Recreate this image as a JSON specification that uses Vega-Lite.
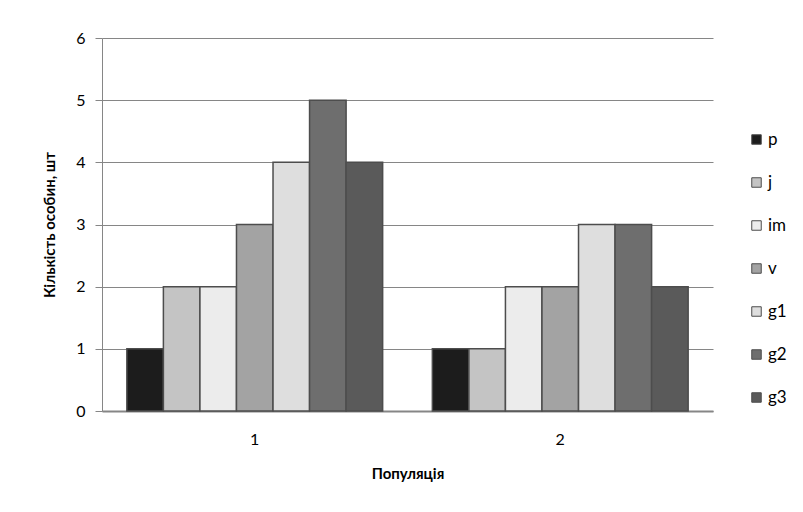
{
  "$schema": "https://vega.github.io/schema/vega-lite/v6.json",
  "description": "Кількість особин за віковими станами у двох популяціях",
  "autosize": {"type": "none"},
  "width": 611,
  "height": 373,
  "padding": {"left": 102, "top": 38, "right": 90, "bottom": 101},
  "background": "white",
  "data": {
    "values": [
      {"pop": "1", "stage": "p", "count": 1},
      {"pop": "1", "stage": "j", "count": 2},
      {"pop": "1", "stage": "im", "count": 2},
      {"pop": "1", "stage": "v", "count": 3},
      {"pop": "1", "stage": "g1", "count": 4},
      {"pop": "1", "stage": "g2", "count": 5},
      {"pop": "1", "stage": "g3", "count": 4},
      {"pop": "2", "stage": "p", "count": 1},
      {"pop": "2", "stage": "j", "count": 1},
      {"pop": "2", "stage": "im", "count": 2},
      {"pop": "2", "stage": "v", "count": 2},
      {"pop": "2", "stage": "g1", "count": 3},
      {"pop": "2", "stage": "g2", "count": 3},
      {"pop": "2", "stage": "g3", "count": 2}
    ]
  },
  "mark": {"type": "bar", "stroke": "#4d4d4d", "strokeWidth": 1.5},
  "encoding": {
    "x": {
      "field": "pop",
      "type": "nominal",
      "title": "Популяція",
      "scale": {"paddingInner": 0, "paddingOuter": 0},
      "axis": {
        "labelAngle": 0,
        "ticks": false,
        "domainColor": "#868686",
        "domainWidth": 2,
        "labelPadding": 20,
        "titlePadding": 19
      }
    },
    "xOffset": {
      "field": "stage",
      "type": "nominal",
      "scale": {
        "domain": ["p", "j", "im", "v", "g1", "g2", "g3"],
        "paddingInner": 0,
        "paddingOuter": 0.68
      }
    },
    "y": {
      "field": "count",
      "type": "quantitative",
      "title": "Кількість особин, шт",
      "scale": {"domain": [0, 6], "nice": false},
      "axis": {
        "values": [0, 1, 2, 3, 4, 5, 6],
        "grid": true,
        "gridColor": "#868686",
        "domainColor": "#868686",
        "tickColor": "#868686",
        "tickSize": 7,
        "labelPadding": 10,
        "titlePadding": 18
      }
    },
    "color": {
      "field": "stage",
      "type": "nominal",
      "title": null,
      "scale": {
        "domain": ["p", "j", "im", "v", "g1", "g2", "g3"],
        "range": ["#1c1c1c", "#c4c4c4", "#ececec", "#a3a3a3", "#dedede", "#6e6e6e", "#5a5a5a"]
      },
      "legend": {
        "orient": "none",
        "legendX": 646,
        "legendY": 93,
        "symbolType": "square",
        "symbolSize": 90,
        "symbolStrokeColor": "#4d4d4d",
        "symbolStrokeWidth": 1,
        "labelFontSize": 17,
        "labelOffset": 3,
        "rowPadding": 25
      }
    }
  },
  "config": {
    "font": "Lato",
    "view": {"stroke": null},
    "axis": {
      "labelFont": "Lato",
      "labelFontSize": 16,
      "labelColor": "#000000",
      "titleFont": "Lato",
      "titleFontSize": 15,
      "titleFontWeight": "bold",
      "titleColor": "#000000"
    },
    "legend": {"labelFont": "Lato", "labelColor": "#000000"}
  }
}
